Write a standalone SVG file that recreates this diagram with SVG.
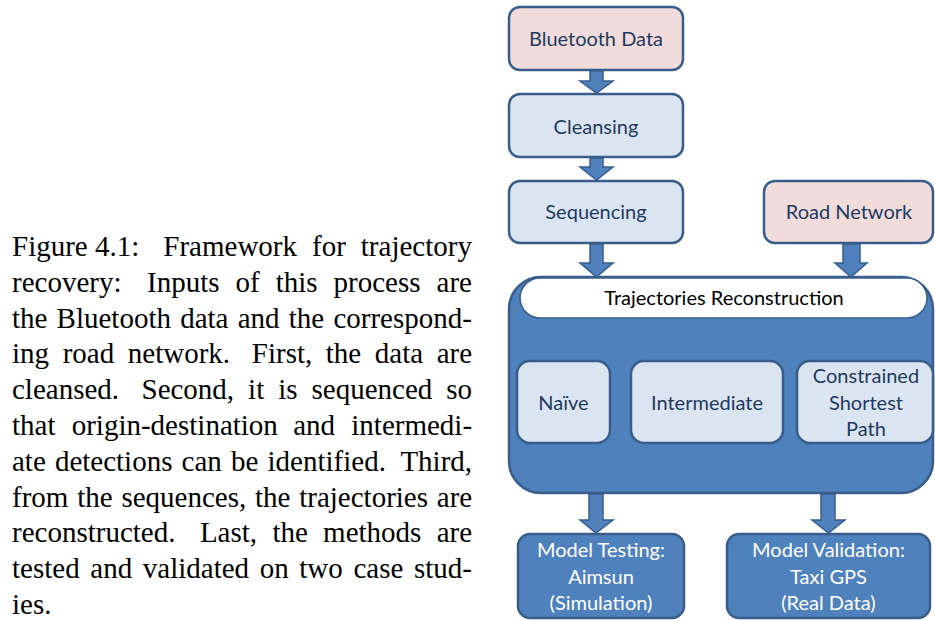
<svg xmlns="http://www.w3.org/2000/svg" width="935" height="620" viewBox="0 0 935 620">
<style>
.cap{font-family:"Liberation Serif","Times New Roman",serif;font-size:29px;fill:#000}
.lbl{font-family:Lato,"Open Sans",sans-serif;font-size:20px;text-anchor:middle}
.dk{fill:#1f3a5f}
.wt{fill:#ffffff}
.pink{fill:#f2dcdb;stroke:#385d8a;stroke-width:2.5}
.lb{fill:#dbe5f1;stroke:#385d8a;stroke-width:2.5}
.mb{fill:#4f81bd;stroke:#385d8a;stroke-width:2.5}
.arr{fill:#4f81bd;stroke:#385d8a;stroke-width:1.5;stroke-linejoin:miter}
</style>
<rect width="935" height="620" fill="#ffffff"/>
<g id="caption" class="cap">
<text y="256"><tspan x="12">Figure 4.1:</tspan><tspan x="163.3">Framework</tspan><tspan x="312">for</tspan><tspan x="360.8">trajectory</tspan></text>
<text y="291.8"><tspan x="12">recovery:</tspan><tspan x="147">Inputs</tspan><tspan x="235.5">of</tspan><tspan x="275.7">this</tspan><tspan x="333.6">process</tspan><tspan x="436.6">are</tspan></text>
<text y="327.6"><tspan x="12">the</tspan><tspan x="56.6">Bluetooth</tspan><tspan x="180.2">data</tspan><tspan x="237.7">and</tspan><tspan x="288.8">the</tspan><tspan x="333.4">correspond-</tspan></text>
<text y="363.4"><tspan x="12">ing</tspan><tspan x="62.7">road</tspan><tspan x="127.8">network.</tspan><tspan x="251.8">First,</tspan><tspan x="325.8">the</tspan><tspan x="374.8">data</tspan><tspan x="436.7">are</tspan></text>
<text y="399.2"><tspan x="12">cleansed.</tspan><tspan x="141.5">Second,</tspan><tspan x="248.1">it</tspan><tspan x="278.2">is</tspan><tspan x="311.5">sequenced</tspan><tspan x="446.3">so</tspan></text>
<text y="435"><tspan x="12">that</tspan><tspan x="71.7">origin-destination</tspan><tspan x="293.2">and</tspan><tspan x="351.3">intermedi-</tspan></text>
<text y="470.8"><tspan x="12">ate</tspan><tspan x="54.9">detections</tspan><tspan x="181.6">can</tspan><tspan x="231">be</tspan><tspan x="267.5">identified.</tspan><tspan x="400.4">Third,</tspan></text>
<text y="506.6"><tspan x="12">from</tspan><tspan x="77.2">the</tspan><tspan x="121.4">sequences,</tspan><tspan x="255">the</tspan><tspan x="299.2">trajectories</tspan><tspan x="436.8">are</tspan></text>
<text y="542.4"><tspan x="12">reconstructed.</tspan><tspan x="199.9">Last,</tspan><tspan x="272.4">the</tspan><tspan x="323.1">methods</tspan><tspan x="436.7">are</tspan></text>
<text y="578.2"><tspan x="12">tested</tspan><tspan x="90.3">and</tspan><tspan x="142.8">validated</tspan><tspan x="259.7">on</tspan><tspan x="299.3">two</tspan><tspan x="353.4">case</tspan><tspan x="413.9">stud-</tspan></text>
<text y="614" x="12">ies.</text>
</g>
<g id="bluetooth-data">
<rect class="pink" x="509" y="7" width="174" height="63" rx="11"/>
<text class="lbl dk" x="596" y="46">Bluetooth Data</text>
</g>
<g id="cleansing">
<rect class="lb" x="509" y="94" width="174" height="63" rx="11"/>
<text class="lbl dk" x="596" y="134">Cleansing</text>
</g>
<g id="sequencing">
<rect class="lb" x="509" y="181" width="174" height="62" rx="11"/>
<text class="lbl dk" x="596" y="219">Sequencing</text>
</g>
<g id="road-network">
<rect class="pink" x="764" y="181" width="169" height="62" rx="11"/>
<text class="lbl dk" x="849" y="219">Road Network</text>
</g>
<g id="trajectories-reconstruction">
<rect class="mb" x="509" y="277" width="424" height="216" rx="32"/>
<rect x="520" y="278" width="407" height="40" rx="20" fill="#ffffff" stroke="#385d8a" stroke-width="1.5"/>
<text class="lbl" x="724" y="305" fill="#000">Trajectories Reconstruction</text>
</g>
<g id="naive">
<rect class="lb" x="517" y="361" width="93" height="82" rx="13"/>
<text class="lbl dk" x="563.5" y="410">Naïve</text>
</g>
<g id="intermediate">
<rect class="lb" x="631" y="361" width="152" height="82" rx="13"/>
<text class="lbl dk" x="707" y="410">Intermediate</text>
</g>
<g id="constrained-shortest-path">
<rect class="lb" x="797" y="361" width="136" height="82" rx="13"/>
<text class="lbl dk" x="866" y="383">Constrained</text>
<text class="lbl dk" x="866" y="410">Shortest</text>
<text class="lbl dk" x="866" y="436">Path</text>
</g>
<g id="model-testing">
<rect class="mb" x="518" y="534" width="166" height="84" rx="12"/>
<text class="lbl wt" x="601" y="557">Model Testing:</text>
<text class="lbl wt" x="601" y="584">Aimsun</text>
<text class="lbl wt" x="601" y="610">(Simulation)</text>
</g>
<g id="model-validation">
<rect class="mb" x="727" y="534" width="203" height="84" rx="12"/>
<text class="lbl wt" x="828.5" y="557">Model Validation:</text>
<text class="lbl wt" x="828.5" y="584">Taxi GPS</text>
<text class="lbl wt" x="828.5" y="610">(Real Data)</text>
</g>
<g id="connectors">
<path class="arr" d="M590 71 H603 V81 H613 L596.5 93 L580 81 H590 Z"/>
<path class="arr" d="M590 158 H603 V167 H613 L596.5 180 L580 167 H590 Z"/>
<path class="arr" d="M590 244 H603 V263 H613 L596.5 277 L580 263 H590 Z"/>
<path class="arr" d="M843 244 H860 V263 H867 L851 277 L835 263 H843 Z"/>
<path class="arr" d="M589 494 H603 V520 H613 L596 533 L580 520 H589 Z"/>
<path class="arr" d="M821 494 H835 V520 H845 L828.5 533 L812 520 H821 Z"/>
</g>
</svg>
